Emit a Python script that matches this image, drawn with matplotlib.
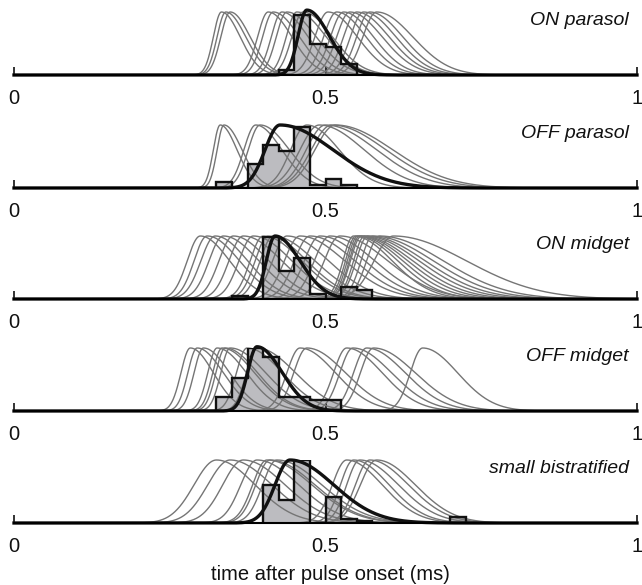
import numpy as np
import matplotlib
matplotlib.use("Agg")
import matplotlib.pyplot as plt

plt.rcParams['font.family'] = ['Liberation Sans', 'DejaVu Sans']

titles = ["ON parasol", "OFF parasol", "ON midget", "OFF midget", "small bistratified"]

# histogram bins (left edges) and heights, relative to the peak of the fits
p1_bins = [0.425, 0.45, 0.475, 0.5, 0.525, 0.55]
p1_hist = [0.08, 0.95, 0.50, 0.45, 0.18]
p2_bins = [0.325, 0.35, 0.375, 0.4, 0.425, 0.45, 0.475, 0.5, 0.525, 0.55]
p2_hist = [0.10, 0.0, 0.38, 0.69, 0.58, 0.97, 0.05, 0.14, 0.05]
p3_bins = [0.35, 0.375, 0.4, 0.425, 0.45, 0.475, 0.5, 0.525, 0.55, 0.575]
p3_hist = [0.04, 0.0, 0.98, 0.45, 0.65, 0.08, 0.0, 0.19, 0.14]
p4_bins = [0.325, 0.35, 0.375, 0.4, 0.425, 0.45, 0.475, 0.5, 0.525]
p4_hist = [0.22, 0.52, 1.0, 0.86, 0.22, 0.22, 0.17, 0.17]
p5_bins = [0.4, 0.425, 0.45, 0.475, 0.5, 0.525, 0.55, 0.575, 0.6, 0.625, 0.65, 0.675, 0.7, 0.725]
p5_hist = [0.6, 0.36, 1.0, 0.0, 0.41, 0.06, 0.03, 0.0, 0.0, 0.0, 0.0, 0.0, 0.1]

# individual cell fits: peak time, rise width, decay width
p1_peak = [0.333, 0.340, 0.347, 0.408, 0.416, 0.430, 0.438, 0.454, 0.464, 0.504, 0.518, 0.529, 0.539, 0.550, 0.561, 0.571, 0.582]
p1_rise = [0.013, 0.014, 0.015, 0.017, 0.017, 0.017, 0.017, 0.017, 0.018, 0.021, 0.021, 0.021, 0.021, 0.021, 0.021, 0.021, 0.022]
p1_decay = [0.030, 0.032, 0.032, 0.038, 0.042, 0.042, 0.047, 0.047, 0.047, 0.047, 0.047, 0.048, 0.052, 0.052, 0.052, 0.053, 0.058]

p2_peak = [0.331, 0.337, 0.388, 0.395, 0.470, 0.490, 0.500, 0.510, 0.516]
p2_rise = [0.011, 0.011, 0.019, 0.019, 0.026, 0.031, 0.031, 0.033, 0.033]
p2_decay = [0.027, 0.029, 0.042, 0.047, 0.052, 0.072, 0.082, 0.087, 0.092]

p3_peak = [0.299, 0.310, 0.323, 0.336, 0.352, 0.368, 0.384, 0.400, 0.408, 0.416, 0.438, 0.459, 0.475,
           0.491, 0.507, 0.523, 0.545, 0.549, 0.552, 0.555, 0.558, 0.563, 0.568, 0.576, 0.587, 0.609]
p3_rise = [0.021, 0.021, 0.023, 0.023, 0.023, 0.023, 0.023, 0.021, 0.021, 0.021, 0.023, 0.025, 0.025,
           0.025, 0.025, 0.025, 0.017, 0.017, 0.017, 0.017, 0.018, 0.018, 0.019, 0.019, 0.021, 0.031]
p3_decay = [0.047, 0.052, 0.052, 0.057, 0.057, 0.062, 0.062, 0.062, 0.062, 0.067, 0.067, 0.072, 0.072,
            0.072, 0.072, 0.077, 0.062, 0.067, 0.072, 0.077, 0.082, 0.087, 0.092, 0.097, 0.102, 0.117]

p4_peak = [0.283, 0.294, 0.304, 0.326, 0.334, 0.339, 0.347, 0.374, 0.390, 0.459, 0.470, 0.534, 0.544, 0.566, 0.577, 0.656]
p4_rise = [0.015, 0.015, 0.015, 0.015, 0.015, 0.015, 0.015, 0.017, 0.017, 0.021, 0.021, 0.021, 0.021, 0.021, 0.021, 0.020]
p4_decay = [0.037, 0.042, 0.042, 0.047, 0.052, 0.052, 0.057, 0.057, 0.062, 0.057, 0.062, 0.057, 0.062, 0.062, 0.067, 0.056]

p5_peak = [0.325, 0.347, 0.368, 0.390, 0.406, 0.411, 0.422, 0.534, 0.545, 0.555, 0.571, 0.582]
p5_rise = [0.036, 0.036, 0.033, 0.026, 0.023, 0.023, 0.023, 0.023, 0.021, 0.021, 0.023, 0.026]
p5_decay = [0.062, 0.067, 0.067, 0.067, 0.072, 0.072, 0.072, 0.057, 0.057, 0.062, 0.062, 0.062]

# population fit (thick black): peak, rise, decay, amplitude
pop_peak = [0.470, 0.427, 0.419, 0.390, 0.443]
pop_rise = [0.014, 0.024, 0.014, 0.015, 0.024]
pop_decay = [0.036, 0.085, 0.040, 0.040, 0.070]
pop_amp = [1.03, 1.0, 1.0, 1.02, 1.0]

panels = [
    (p1_bins, p1_hist, p1_peak, p1_rise, p1_decay),
    (p2_bins, p2_hist, p2_peak, p2_rise, p2_decay),
    (p3_bins, p3_hist, p3_peak, p3_rise, p3_decay),
    (p4_bins, p4_hist, p4_peak, p4_rise, p4_decay),
    (p5_bins, p5_hist, p5_peak, p5_rise, p5_decay),
]


def asym(t, peak, rise, decay):
    s = np.where(t < peak, rise, decay)
    return np.exp(-0.5 * ((t - peak) / s) ** 2)


W, H = 642, 585
fig = plt.figure(figsize=(W / 100, H / 100), dpi=100)
baselines = [75, 188, 299, 411, 523]
ax_h = 63
x0, x1 = 14, 637
t = np.linspace(0, 1, 2000)

for i, (bins, hist, pk, rs, dc) in enumerate(panels):
    b = baselines[i]
    ax = fig.add_axes([x0 / W, 1 - b / H, (x1 - x0) / W, ax_h / H])
    ax.set_xlim(0, 1)
    ax.set_ylim(0, 1)
    ax.stairs(hist, bins, fill=True, color='#bcbcc0', lw=0, zorder=1)
    for p, r, d in zip(pk, rs, dc):
        ax.plot(t, asym(t, p, r, d), color='#757575', lw=1.0, zorder=2, clip_on=False)
    ax.stairs(hist, bins, color='#111111', lw=1.7, zorder=3)
    ax.plot(t, pop_amp[i] * asym(t, pop_peak[i], pop_rise[i], pop_decay[i]),
            color='#111111', lw=2.4, zorder=4, clip_on=False)
    for s in ['top', 'right', 'left']:
        ax.spines[s].set_visible(False)
    ax.spines['bottom'].set_linewidth(1.5)
    ax.spines['bottom'].set_zorder(5)
    ax.set_yticks([])
    ax.set_xticks([0, 0.5, 1])
    ax.set_xticklabels(['0', '0.5', '1'])
    ax.tick_params(axis='x', direction='in', length=6, width=1.2, pad=10,
                   labelsize=14.5, colors='#111111')
    ax.text(0.987, 0.87, titles[i], transform=ax.transAxes, ha='right', va='center',
            fontsize=14, fontstyle='italic', color='#111111')
    ax.patch.set_visible(False)

fig.text(330 / W, 1 - 575 / H, "time after pulse onset (ms)", ha='center', va='center',
         fontsize=14.5, color='#111111')

fig.savefig("out.png", dpi=100)
